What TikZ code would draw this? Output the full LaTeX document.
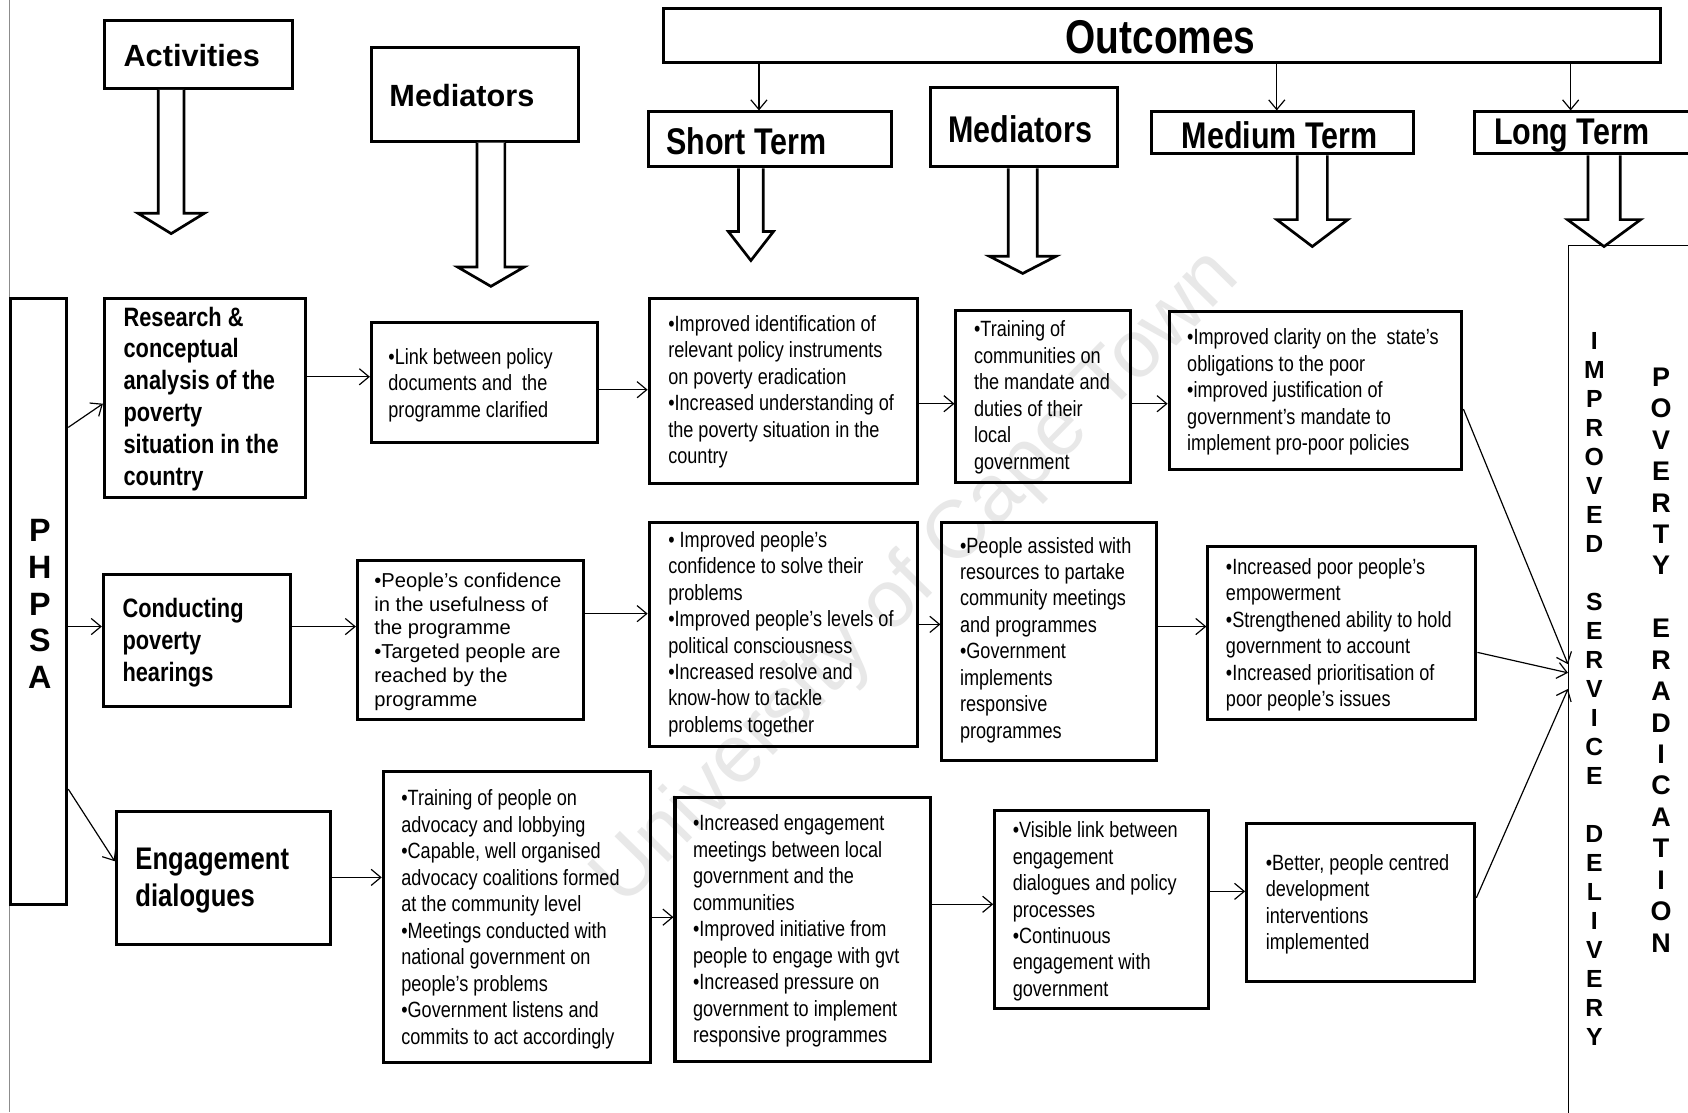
\documentclass[tikz,border=0pt]{standalone}
\usepackage{fontspec}
\setmainfont{Liberation Sans}
\newfontfamily\narrowfont[FakeStretch=0.82]{Liberation Sans}
\usetikzlibrary{arrows.meta,calc}

% hollow block arrow hanging below a heading box:
% #1 node, #2 axis x, #3 head base y, #4 tip y, #5 half shaft, #6 half head
\newcommand\fatarrow[6]{%
  \draw[fatline] (#2-#5,0 |- #1.south) -- (#2-#5,#3) -- (#2-#6,#3) -- (#2,#4)
    -- (#2+#6,#3) -- (#2+#5,#3) -- (#2+#5,0 |- #1.south);}

\begin{document}
\begin{tikzpicture}[x=1pt,y=-1pt,
  frame/.style={draw, line width=2.8pt, rectangle, inner sep=0pt},
  fatline/.style={draw, line width=2.5pt, fill=white, line join=miter},
  conn/.style={-{Straight Barb[length=9pt,width=15pt]}, line width=1.1pt},
  body/.style={font=\narrowfont\fontsize{20.5}{24.6}\selectfont, align=left, inner sep=0pt, anchor=west},
  bodywide/.style={font=\fontsize{18.7}{22}\selectfont, align=left, inner sep=0pt, anchor=west},
  acttxt/.style={font=\narrowfont\bfseries\fontsize{24.7}{29.6}\selectfont, align=left, inner sep=0pt, anchor=west},
  bigact/.style={font=\narrowfont\bfseries\fontsize{29}{34}\selectfont, align=left, inner sep=0pt, anchor=west},
  headwide/.style={font=\bfseries\fontsize{28.5}{34}\selectfont, inner sep=0pt, anchor=west},
  headnarrow/.style={font=\narrowfont\bfseries\fontsize{34.5}{40}\selectfont, inner sep=0pt, anchor=west},
  column/.style={font=\bfseries\fontsize{#1}{#1}\selectfont, align=center, inner sep=0pt}
]
\useasboundingbox (0,0) rectangle (1568,1033);
\fill[white] (0,0) rectangle (1568,1033);
\clip (0,0) rectangle (1568,1033);

% watermark
\node[rotate=45.5, text=black!9, font=\fontsize{76}{80}\selectfont] (wm) at (852,538) {University of Cape Town};

% page edge of the scan
\draw[black!45, line width=0.6pt] (9,0) -- (9,277);
\draw[black!45, line width=0.6pt] (9,840) -- (9,1033);

% ---------- headings ----------
\node[frame, minimum width=175pt, minimum height=63pt] (act) at (184.5,50.5) {};
\node[headwide] (actt) at ($(act.west)+(19,1)$) {Activities};

\node[frame, minimum width=192pt, minimum height=87pt] (medh) at (441,87.5) {};
\node[headwide] (medht) at ($(medh.west)+(18,1)$) {Mediators};

\node[frame, minimum width=926pt, minimum height=50pt] (outc) at (1079,33) {};
\node[font=\narrowfont\bfseries\fontsize{44}{50}\selectfont, inner sep=0pt] (outct) at (1078,35) {Outcomes};

\node[frame, minimum width=226pt, minimum height=51pt] (st) at (715,129.5) {};
\node[headnarrow] (stt) at ($(st.west)+(18,1.5)$) {Short Term};

\node[frame, minimum width=174pt, minimum height=74pt] (medb) at (951,118) {};
\node[headnarrow] (medbt) at ($(medb.west)+(18,2)$) {Mediators};

\node[frame, minimum width=243pt, minimum height=39pt] (mt) at (1191.5,123.5) {};
\node[headnarrow] (mtt) at ($(mt.west)+(29,2.5)$) {Medium Term};

\node[frame, minimum width=205pt, minimum height=39pt] (lt) at (1472.5,123.5) {};
\node[headnarrow] (ltt) at ($(lt.west)+(19,2.5)$) {Long Term};

\draw[conn] (outc.south -| 705,0) -- (st.north -| 705,0);
\draw[conn] (outc.south -| 1186,0) -- (mt.north -| 1186,0);
\draw[conn] (outc.south -| 1459,0) -- (lt.north -| 1459,0);

\fatarrow{act}{159}{198}{217}{12}{31}
\fatarrow{medh}{456}{248}{266}{13}{31}
\fatarrow{st}{697.5}{215}{242}{11.5}{21}
\fatarrow{medb}{950}{238}{254}{13.5}{31}
\fatarrow{mt}{1219}{204}{229}{14}{33}
\fatarrow{lt}{1490}{204}{229}{15}{34}

% ---------- side columns ----------
\node[frame, minimum width=52pt, minimum height=563pt] (phpsa) at (36,558.5) {};
\node[column=30, font=\bfseries\fontsize{30}{34}\selectfont] (phpsat) at (37,561) {P\\H\\P\\S\\A};

\node[draw, line width=1pt, minimum width=150pt, minimum height=830pt, inner sep=0pt] (big) at (1532,643) {};
\node[font=\bfseries\fontsize{23}{26.96}\selectfont, align=center, inner sep=0pt] (impt) at (1481,640)
  {I\\M\\P\\R\\O\\V\\E\\D\\[26.96pt]S\\E\\R\\V\\I\\C\\E\\[26.96pt]D\\E\\L\\I\\V\\E\\R\\Y};
\node[font=\bfseries\fontsize{25}{29.2}\selectfont, align=center, inner sep=0pt] (povt) at (1543,613)
  {P\\O\\V\\E\\R\\T\\Y\\[29.2pt]E\\R\\A\\D\\I\\C\\A\\T\\I\\O\\N};

% ---------- row 1 ----------
\node[frame, minimum width=187pt, minimum height=185pt] (a1) at (190.5,369.5) {};
\node[acttxt] (a1t) at ($(a1.west)+(19,1)$) {Research \&\\conceptual\\analysis of the\\poverty\\situation in the\\country};

\node[frame, minimum width=210pt, minimum height=111pt] (m1) at (450,355.5) {};
\node[body] (m1t) at ($(m1.west)+(17,2)$) {•Link between policy\\documents and\ \ the\\programme clarified};

\node[frame, minimum width=249pt, minimum height=172pt] (s1) at (727.5,363) {};
\node[body] (s1t) at ($(s1.west)+(19,1)$) {•Improved identification of\\relevant policy instruments\\on poverty eradication\\•Increased understanding of\\the poverty situation in the\\country};

\node[frame, minimum width=162pt, minimum height=160pt] (d1) at (969,368) {};
\node[body] (d1t) at ($(d1.west)+(18,1)$) {•Training of\\communities on\\the mandate and\\duties of their\\local\\government};

\node[frame, minimum width=272pt, minimum height=147pt] (t1) at (1222,362.5) {};
\node[body] (t1t) at ($(t1.west)+(18,1.5)$) {•Improved clarity on the\ \ state’s\\obligations to the poor\\•improved justification of\\government’s mandate to\\implement pro-poor policies};

% ---------- row 2 ----------
\node[frame, minimum width=174pt, minimum height=122pt] (a2) at (183,595) {};
\node[acttxt] (a2t) at ($(a2.west)+(19,2)$) {Conducting\\poverty\\hearings};

\node[frame, minimum width=210pt, minimum height=147pt] (m2) at (437,594.5) {};
\node[bodywide] (m2t) at ($(m2.west)+(17,1.5)$) {•People’s confidence\\in the usefulness of\\the programme\\•Targeted people are\\reached by the\\programme};

\node[frame, minimum width=249pt, minimum height=208pt] (s2) at (727.5,589) {};
\node[body] (s2t) at ($(s2.west)+(19,0)$) {•\ Improved people’s\\confidence to solve their\\problems\\•Improved people’s levels of\\political consciousness\\•Increased resolve and\\know-how to tackle\\problems together};

\node[frame, minimum width=199pt, minimum height=221pt] (d2) at (974.5,595.5) {};
\node[body] (d2t) at ($(d2.west)+(18,-1)$) {•People assisted with\\resources to partake\\community meetings\\and programmes\\•Government\\implements\\responsive\\programmes};

\node[frame, minimum width=249pt, minimum height=160pt] (t2) at (1246.5,588) {};
\node[body] (t2t) at ($(t2.west)+(18,1.5)$) {•Increased poor people’s\\empowerment\\•Strengthened ability to hold\\government to account\\•Increased prioritisation of\\poor people’s issues};

% ---------- row 3 ----------
\node[frame, minimum width=199pt, minimum height=123pt] (a3) at (207.5,815.5) {};
\node[bigact] (a3t) at ($(a3.west)+(19,2.5)$) {Engagement\\dialogues};

\node[frame, minimum width=248pt, minimum height=270pt] (m3) at (480,852) {};
\node[body] (m3t) at ($(m3.west)+(18,2)$) {•Training of people on\\advocacy and lobbying\\•Capable, well organised\\advocacy coalitions formed\\at the community level\\•Meetings conducted with\\national government on\\people’s problems\\•Government listens and\\commits to act accordingly};

\node[frame, minimum width=237pt, minimum height=245pt] (s3) at (745.5,863.5) {};
\node[body] (s3t) at ($(s3.west)+(18,1.5)$) {•Increased engagement\\meetings between local\\government and the\\communities\\•Improved initiative from\\people to engage with gvt\\•Increased pressure on\\government to implement\\responsive programmes};

\node[frame, minimum width=199pt, minimum height=184pt] (d3) at (1023.5,845) {};
\node[body] (d3t) at ($(d3.west)+(18,1.5)$) {•Visible link between\\engagement\\dialogues and policy\\processes\\•Continuous\\engagement with\\government};

\node[frame, minimum width=212pt, minimum height=147pt] (t3) at (1264,838.5) {};
\node[body] (t3t) at ($(t3.west)+(19,1.5)$) {•Better, people centred\\development\\interventions\\implemented};

% ---------- connectors ----------
\draw[conn] (phpsa.east |- 0,397) -- (a1.west |- 0,375);
\draw[conn] (phpsa.east |- 0,582) -- (a2.west |- 0,582);
\draw[conn] (phpsa.east |- 0,733) -- (a3.west |- 0,800);

\draw[conn] (a1.east |- 0,350) -- (m1.west |- 0,350);
\draw[conn] (a2.east |- 0,582) -- (m2.west |- 0,582);
\draw[conn] (a3.east |- 0,815) -- (m3.west |- 0,815);

\draw[conn] (m1.east |- 0,362) -- (s1.west |- 0,362);
\draw[conn] (m2.east |- 0,570) -- (s2.west |- 0,570);
\draw[conn] (m3.east |- 0,852) -- (s3.west |- 0,852);

\draw[conn] (s1.east |- 0,375) -- (d1.west |- 0,375);
\draw[conn] (s2.east |- 0,580) -- (d2.west |- 0,580);
\draw[conn] (s3.east |- 0,840) -- (d3.west |- 0,840);

\draw[conn] (d1.east |- 0,375) -- (t1.west |- 0,375);
\draw[conn] (d2.east |- 0,582) -- (t2.west |- 0,582);
\draw[conn] (d3.east |- 0,828) -- (t3.west |- 0,828);

\draw[conn] (t1.east |- 0,380) -- (big.west |- 0,617);
\draw[conn] (t2.east |- 0,606) -- (big.west |- 0,625);
\draw[conn] (t3.east |- 0,834) -- (big.west |- 0,640);
\end{tikzpicture}
\end{document}
